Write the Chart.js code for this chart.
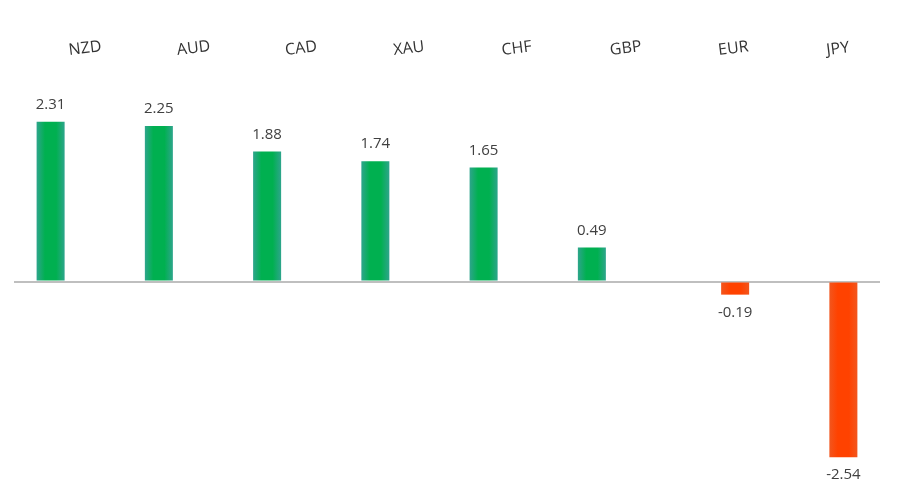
<!DOCTYPE html>
<html>
<head>
<meta charset="utf-8">
<script src="https://cdn.jsdelivr.net/npm/chart.js@4"></script>
<style>
  html, body { margin: 0; padding: 0; background: #fff; }
  #wrap { width: 902px; height: 494px; }
</style>
</head>
<body>
<div id="wrap"><canvas id="c" width="902" height="494"></canvas></div>
<script>
const categories = ["NZD", "AUD", "CAD", "XAU", "CHF", "GBP", "EUR", "JPY"];
const values = [2.31, 2.25, 1.88, 1.74, 1.65, 0.49, -0.19, -2.54];
const yTicks = { min: -3, max: 3, step: 1 };

const positive = values.map(v => v >= 0 ? v : null);
const negative = values.map(v => v < 0 ? v : null);

function barGradient(edge, mid) {
  return function (ctx) {
    if (ctx.type !== 'data') return mid;
    const meta = ctx.chart.getDatasetMeta(ctx.datasetIndex);
    const el = meta.data[ctx.dataIndex];
    if (!el || typeof el.x !== 'number' || !el.width) return mid;
    const c = ctx.chart.ctx;
    const x0 = el.x - el.width / 2, x1 = el.x + el.width / 2;
    const g = c.createLinearGradient(x0, 0, x1, 0);
    g.addColorStop(0, edge);
    g.addColorStop(0.3, mid);
    g.addColorStop(0.7, mid);
    g.addColorStop(1, edge);
    return g;
  };
}

const valueLabels = {
  id: 'valueLabels',
  afterDatasetsDraw(chart) {
    const c = chart.ctx;
    c.save();
    c.font = '15px "Open Sans"';
    c.fillStyle = '#404040';
    c.textAlign = 'center';
    c.textBaseline = 'middle';
    chart.data.datasets.forEach((ds, di) => {
      const meta = chart.getDatasetMeta(di);
      meta.data.forEach((el, i) => {
        const v = ds.data[i];
        if (v === null || v === undefined) return;
        const y = v >= 0 ? el.y - 17 : el.y + 18;
        c.fillText(v.toFixed(2), el.x, y);
      });
    });
    c.restore();
  }
};

const chart = new Chart(document.getElementById('c'), {
  type: 'bar',
  data: {
    labels: categories,
    datasets: [
      { data: positive, backgroundColor: barGradient('#2ea58c', '#00b050'), borderWidth: 0 },
      { data: negative, backgroundColor: barGradient('#f2561e', '#ff4200'), borderWidth: 0 }
    ]
  },
  options: {
    responsive: false,
    animation: false,
    events: [],
    categoryPercentage: 0.647,
    barPercentage: 0.8,
    layout: { padding: { left: 14, right: 22, top: 0, bottom: 5 } },
    plugins: { legend: { display: false }, tooltip: { enabled: false } },
    scales: {
      x: {
        position: 'top',
        grid: { display: false, drawTicks: false },
        border: { display: false },
        afterFit: s => { s.height = 74; },
        ticks: {
          autoSkip: false,
          minRotation: 7,
          maxRotation: 7,
          padding: 14,
          labelOffset: 3,
          color: '#333333',
          font: { family: 'Open Sans', size: 16 }
        }
      },
      y: {
        min: yTicks.min,
        max: yTicks.max,
        border: { display: false },
        grid: {
          drawTicks: false,
          lineWidth: 2,
          color: ctx => (ctx.tick && ctx.tick.value === 0) ? '#bfbfbf' : 'rgba(0,0,0,0)'
        },
        ticks: { display: false, stepSize: yTicks.step }
      }
    }
  },
  plugins: [valueLabels]
});
chart.update();
</script>
</body>
</html>
